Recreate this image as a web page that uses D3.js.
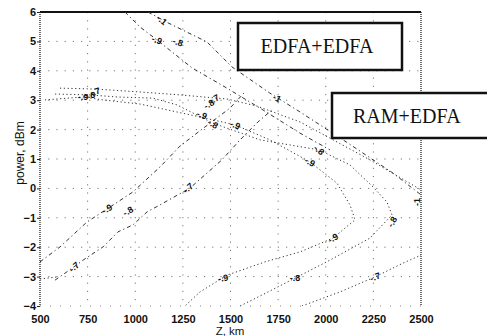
<!DOCTYPE html>
<html><head><meta charset="utf-8">
<script src="https://cdn.jsdelivr.net/npm/d3@7"></script>
<style>body{margin:0;background:#fff}svg{display:block}</style>
</head><body>
<svg id="c" width="487" height="336"></svg>
<script>
// ---- data (Z in km, power in dBm) ----
const xTicks = [500, 750, 1000, 1250, 1500, 1750, 2000, 2250, 2500];
const yTicks = [-4, -3, -2, -1, 0, 1, 2, 3, 4, 5, 6];
const xLabel = "Z, km";
const yLabel = "power, dBm";
const boxLabels = ["EDFA+EDFA", "RAM+EDFA"];

// EDFA+EDFA contours (dash-dot, descending)
const edfa10 = [[1067,6],[1172,5.63],[1377,4.98],[1508,4.13],[1707,3.24],[1865,2.60],[2117,1.54],[2353,0.52],[2500,-0.22]];
const edfa09 = [[946,6],[1025,5.49],[1114,5.05],[1298,4.10],[1471,3.45],[1655,2.73],[1865,1.88],[2022,1.31]];
// rising contours (dash-dot)
const rise09 = [[500,-2.50],[605,-1.99],[747,-1.14],[852,-0.70],[988,-0.12],[1130,0.73],[1235,1.44],[1366,2.09],[1497,2.73],[1576,3.28]];
const rise07 = [[579,-3.12],[678,-2.67],[726,-2.44],[831,-1.99],[909,-1.48],[988,-1.24],[1062,-0.80],[1130,-0.56],[1287,0.01],[1455,0.97],[1550,1.65],[1644,2.26],[1718,2.67]];
// RAM+EDFA contours (dotted, ">" shaped)
const ram07 = [[605,3.41],[789,3.38],[1025,3.28],[1235,3.18],[1482,3.04],[1639,2.80],[1865,2.26],[2022,1.71],[2232,0.97],[2500,-0.05]];
const ram07low = [[1875,-4],[2075,-3.52],[2259,-3.01],[2406,-2.54],[2500,-2.27]];
const ram08 = [[579,3.21],[762,3.18],[904,3.11],[1093,3.07],[1219,2.84],[1408,2.22],[1655,1.65],[1965,1.31],[2127,0.80],[2248,0.05],[2321,-0.46],[2348,-0.90],[2232,-1.69],[2022,-2.44],[1839,-3.05],[1655,-3.66],[1550,-4.0]];
const ram09 = [[526,3.01],[726,3.11],[831,3.01],[1025,2.87],[1340,2.43],[1524,2.16],[1707,1.65],[1917,0.90],[2059,0.18],[2127,-0.56],[2154,-1.07],[2101,-1.35],[2038,-1.69],[1865,-2.16],[1681,-2.50],[1482,-2.95],[1340,-3.52],[1261,-4.0]];
const ramStub = [[500,-3.08],[594,-3.01]];

// contour labels: [Z, power, text, angle]
const contourLabels = [
  [1140,5.73,"-.1",40],[1114,5.05,"-.9",20],[1224,4.98,"-.8",20],
  [726,3.11,"-.9",0],[762,3.18,"-.8",0],[789,3.28,"-.7",-20],
  [1387,2.87,"-.8",-30],[1413,3.04,"-.7",-30],
  [1350,2.50,"-.9",20],[1408,2.19,"-.8",30],[1524,2.16,"-.9",20],
  [1744,3.07,"-1",30],[1965,1.31,"-.8",40],[1917,0.90,"-.9",30],
  [2479,-0.46,"-1",-90],[2348,-1.14,"-.8",-60],[2038,-1.69,"-.9",-30],
  [2259,-3.01,"-.7",-20],[1839,-3.05,"-.8",0],[1461,-3.05,"-.9",-10],
  [852,-0.70,"-.9",-30],[962,-0.77,"-.8",-30],[678,-2.67,"-.7",-40],[1277,0.01,"-.7",-40]
];

// ---- drawing ----
const svg = d3.select("#c");
const x = d3.scaleLinear().domain([500, 2500]).range([40, 421]);
const y = d3.scaleLinear().domain([-4, 6]).range([306, 12]);

svg.append("defs").append("clipPath").attr("id","plot")
  .append("rect").attr("x",40).attr("y",12).attr("width",381).attr("height",294);

// grid
const g = svg.append("g");
g.selectAll(".gx").data(xTicks.slice(1,-1)).join("line")
  .attr("x1",d=>x(d)).attr("x2",d=>x(d)).attr("y1",12).attr("y2",306)
  .attr("stroke","#777").attr("stroke-width",1).attr("stroke-dasharray","1.2,7");
g.selectAll(".gy").data(yTicks.slice(1,-1)).join("line")
  .attr("y1",d=>y(d)).attr("y2",d=>y(d)).attr("x1",40).attr("x2",421)
  .attr("stroke","#777").attr("stroke-width",1).attr("stroke-dasharray","1.2,7");

// frame
svg.append("line").attr("x1",40).attr("x2",421).attr("y1",12).attr("y2",12).attr("stroke","#111").attr("stroke-width",2);
svg.append("line").attr("x1",40).attr("x2",40).attr("y1",12).attr("y2",306).attr("stroke","#222").attr("stroke-width",1.3).attr("stroke-dasharray","1,1");
svg.append("line").attr("x1",421).attr("x2",421).attr("y1",12).attr("y2",306).attr("stroke","#222").attr("stroke-width",1.3).attr("stroke-dasharray","1,1");
svg.append("line").attr("x1",40).attr("x2",421).attr("y1",306).attr("y2",306).attr("stroke","#888").attr("stroke-width",1).attr("stroke-dasharray","1,9");

// axes (tick labels)
const xAxis = svg.append("g").attr("transform","translate(0,306)")
  .call(d3.axisBottom(x).tickValues(xTicks).tickSize(0).tickPadding(9).tickFormat(d3.format("d")));
const yAxis = svg.append("g").attr("transform","translate(40,0)")
  .call(d3.axisLeft(y).tickValues(yTicks).tickSize(3).tickPadding(1).tickFormat(d3.format("d")));
[xAxis,yAxis].forEach(a=>{
  a.select(".domain").remove();
  a.selectAll("text").attr("font-family","Liberation Sans, Arial, sans-serif")
    .attr("font-size",11).attr("font-weight","bold").attr("fill","#111");
  a.selectAll("line").attr("stroke","#222");
});

svg.append("text").attr("x",230).attr("y",335).attr("text-anchor","middle")
  .attr("font-family","Liberation Sans, Arial, sans-serif").attr("font-size",11.5).attr("fill","#111").text(xLabel);
svg.append("text").attr("transform","translate(24,153) rotate(-90)").attr("text-anchor","middle")
  .attr("font-family","Liberation Sans, Arial, sans-serif").attr("font-size",12).attr("fill","#111").text(yLabel);

// contour lines
const line = d3.line().x(d=>x(d[0])).y(d=>y(d[1]));
const plot = svg.append("g").attr("clip-path","url(#plot)");
const dashDot = [edfa10, edfa09, rise09, rise07];
const dotted = [ram07, ram07low, ram08, ram09, ramStub];
plot.selectAll(".dd").data(dashDot).join("path").attr("d",line)
  .attr("fill","none").attr("stroke","#333").attr("stroke-width",1).attr("stroke-dasharray","4,3,1.2,3");
plot.selectAll(".dt").data(dotted).join("path").attr("d",line)
  .attr("fill","none").attr("stroke","#333").attr("stroke-width",1).attr("stroke-dasharray","1.2,2.6");

svg.selectAll(".cl").data(contourLabels).join("text")
  .attr("transform",d=>`translate(${x(d[0])},${y(d[1])}) rotate(${d[3]})`)
  .attr("text-anchor","middle").attr("dy","0.35em")
  .attr("font-family","Liberation Sans, Arial, sans-serif").attr("font-size",9).attr("font-weight","bold")
  .attr("fill","#111").text(d=>d[2]);

// annotation boxes
svg.append("rect").attr("x",238).attr("y",23).attr("width",164).attr("height",47)
  .attr("fill","#fff").attr("stroke","#111").attr("stroke-width",2.5);
svg.append("text").attr("x",317).attr("y",53).attr("text-anchor","middle")
  .attr("font-family","Liberation Serif, Times New Roman, serif").attr("font-size",20).attr("fill","#111").text(boxLabels[0]);
svg.append("rect").attr("x",332).attr("y",93).attr("width",160).attr("height",45)
  .attr("fill","#fff").attr("stroke","#111").attr("stroke-width",2.5);
svg.append("text").attr("x",353).attr("y",123)
  .attr("font-family","Liberation Serif, Times New Roman, serif").attr("font-size",20).attr("fill","#111").text(boxLabels[1]);
</script>
</body></html>
